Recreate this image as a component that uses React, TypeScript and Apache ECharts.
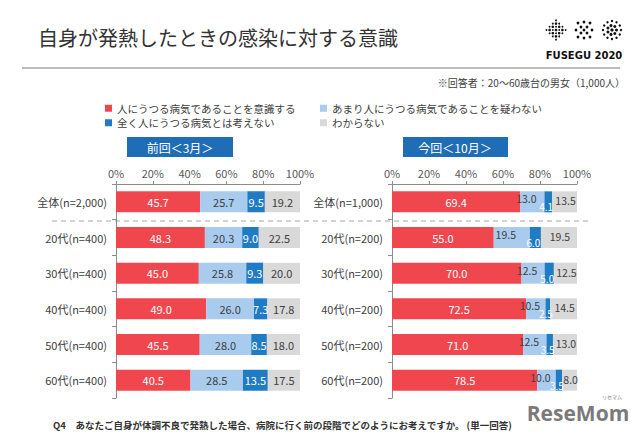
import React, { useEffect, useRef } from "react";
import * as echarts from "echarts";

const categoriesPrev = ["全体(n=2,000)", "20代(n=400)", "30代(n=400)", "40代(n=400)", "50代(n=400)", "60代(n=400)"];
const categoriesNow = ["全体(n=1,000)", "20代(n=200)", "30代(n=200)", "40代(n=200)", "50代(n=200)", "60代(n=200)"];

const seriesNames = [
  "人にうつる病気であることを意識する",
  "あまり人にうつる病気であることを疑わない",
  "全く人にうつる病気とは考えない",
  "わからない",
];
const seriesColors = ["#f0474f", "#a9cbee", "#1f7bc4", "#d9d9d9"];
const labelColors = ["#ffffff", "#404040", "#ffffff", "#404040"];

const prevAware = [45.7, 48.3, 45.0, 49.0, 45.5, 40.5];
const prevNotDoubt = [25.7, 20.3, 25.8, 26.0, 28.0, 28.5];
const prevNever = [9.5, 9.0, 9.3, 7.3, 8.5, 13.5];
const prevUnknown = [19.2, 22.5, 20.0, 17.8, 18.0, 17.5];

const nowAware = [69.4, 55.0, 70.0, 72.5, 71.0, 78.5];
const nowNotDoubt = [13.0, 19.5, 12.5, 10.5, 12.5, 10.0];
const nowNever = [4.1, 6.0, 5.0, 2.5, 3.5, 3.5];
const nowUnknown = [13.5, 19.5, 12.5, 14.5, 13.0, 8.0];

const xTicks = { min: 0, max: 100, interval: 20 };

const FONT = "'Noto Sans CJK JP', 'Noto Sans', sans-serif";

function logoDots(cx: number, cy: number, kind: number) {
  const out: any[] = [];
  const dot = (x: number, y: number, r: number) =>
    out.push({ type: "circle", shape: { cx: x, cy: y, r }, style: { fill: "#111" }, silent: true });
  if (kind === 0) {
    for (let i = -3; i <= 3; i++) {
      for (let j = -3; j <= 3; j++) {
        if (Math.abs(i) + Math.abs(j) <= 3 && (i + j) % 2 === 0) dot(cx + i * 3.2, cy + j * 3.2, 1.3);
        else if (Math.abs(i) + Math.abs(j) <= 3) dot(cx + i * 3.2, cy + j * 3.2, 0.9);
      }
    }
  } else if (kind === 1) {
    const pts = [[-6, -7], [0, -8], [6, -7], [-8, 0], [8, 0], [-6, 7], [0, 8], [6, 7], [-3, -3], [3, -3], [-3, 3], [3, 3], [0, 0]];
    pts.forEach((p) => dot(cx + p[0], cy + p[1], 1.4));
  } else {
    for (let k = 0; k < 12; k++) {
      const a = (k / 12) * Math.PI * 2;
      dot(cx + Math.cos(a) * 9, cy + Math.sin(a) * 9, 1.2);
    }
    for (let k = 0; k < 7; k++) {
      const a = (k / 7) * Math.PI * 2;
      dot(cx + Math.cos(a) * 4.5, cy + Math.sin(a) * 4.5, 1.5);
    }
    dot(cx, cy, 1.6);
  }
  return out;
}

function buildSeries(values: number[][], gridIdx: number, offsets: number[][], sizes: number[]) {
  return values.map((vals, i) => ({
    name: seriesNames[i],
    type: "bar",
    stack: "s" + gridIdx,
    xAxisIndex: gridIdx,
    yAxisIndex: gridIdx,
    barWidth: 21,
    itemStyle: { color: seriesColors[i] },
    label: {
      show: true,
      position: "inside",
      offset: offsets[i],
      color: labelColors[i],
      fontSize: sizes[i],
      fontFamily: FONT,
      formatter: (p: any) => Number(p.value).toFixed(1),
    },
    data: vals,
  }));
}

export default function App() {
  const ref = useRef<HTMLDivElement>(null);
  useEffect(() => {
    if (!ref.current) return;
    const chart = echarts.init(ref.current, null, { renderer: "svg" });
    const xAxisBase = {
      type: "value",
      position: "top",
      ...xTicks,
      axisLine: { show: true, lineStyle: { color: "#8c8c8c" } },
      axisTick: { show: true, length: 3, lineStyle: { color: "#8c8c8c" } },
      splitLine: { show: false },
      axisLabel: { formatter: "{value}%", color: "#595959", fontSize: 11, fontFamily: FONT, margin: 6 },
    };
    const yAxisBase = {
      type: "category",
      inverse: true,
      axisLine: { show: true, lineStyle: { color: "#8c8c8c" } },
      axisTick: { show: true, length: 4, lineStyle: { color: "#8c8c8c" } },
      axisLabel: { color: "#404040", fontSize: 11, fontFamily: FONT, margin: 9 },
    };
    const legendBase = {
      orient: "vertical",
      top: 98,
      itemWidth: 7,
      itemHeight: 7,
      itemGap: 4,
      icon: "rect",
      textStyle: { color: "#404040", fontSize: 10.5, fontFamily: FONT },
      selectedMode: false,
    };
    const option: any = {
      animation: false,
      backgroundColor: "#ffffff",
      grid: [
        { left: 116, top: 184, width: 184, height: 214 },
        { left: 392, top: 184, width: 185, height: 214 },
      ],
      xAxis: [
        { ...xAxisBase, gridIndex: 0 },
        { ...xAxisBase, gridIndex: 1 },
      ],
      yAxis: [
        { ...yAxisBase, gridIndex: 0, data: categoriesPrev },
        { ...yAxisBase, gridIndex: 1, data: categoriesNow },
      ],
      legend: [
        { ...legendBase, data: [seriesNames[0], seriesNames[2]], left: 100 },
        { ...legendBase, data: [seriesNames[1], seriesNames[3]], left: 315 },
      ],
      series: [
        ...buildSeries([prevAware, prevNotDoubt, prevNever, prevUnknown], 0, [[0, 0], [0, 0], [0, 0], [0, 0]], [11, 11, 11, 11]),
        ...buildSeries([nowAware, nowNotDoubt, nowNever, nowUnknown], 1, [[0, 0], [-6, -3], [-2, 5], [1, -1]], [11, 10.5, 10, 10.5]),
      ],
      graphic: [
        {
          type: "text",
          left: 38,
          top: 27,
          style: { text: "自身が発熱したときの感染に対する意識", fontSize: 20, fill: "#333333", fontFamily: FONT },
        },
        {
          type: "line",
          shape: { x1: 22, y1: 68, x2: 620, y2: 68 },
          style: { stroke: "#a6a6a6", lineWidth: 1.5 },
        },
        ...logoDots(556, 30, 0),
        ...logoDots(584, 30, 1),
        ...logoDots(612, 30, 2),
        {
          type: "text",
          x: 584,
          y: 55,
          style: {
            text: "FUSEGU 2020",
            fontSize: 10,
            fontWeight: "bold",
            fill: "#111",
            fontFamily: "'DejaVu Sans', sans-serif",
            align: "center",
            verticalAlign: "middle",
          },
        },
        {
          type: "text",
          x: 625,
          y: 82,
          style: {
            text: "※回答者：20〜60歳台の男女（1,000人）",
            fontSize: 10,
            fill: "#404040",
            fontFamily: FONT,
            align: "right",
            verticalAlign: "middle",
          },
        },
        {
          type: "rect",
          shape: { x: 127, y: 137, width: 106, height: 20 },
          style: { fill: "#1f6db6" },
        },
        {
          type: "text",
          x: 180,
          y: 147,
          style: { text: "前回＜3月＞", fontSize: 12, fill: "#ffffff", fontFamily: FONT, align: "center", verticalAlign: "middle" },
        },
        {
          type: "rect",
          shape: { x: 403, y: 137, width: 105, height: 20 },
          style: { fill: "#1f6db6" },
        },
        {
          type: "text",
          x: 455,
          y: 147,
          style: { text: "今回＜10月＞", fontSize: 12, fill: "#ffffff", fontFamily: FONT, align: "center", verticalAlign: "middle" },
        },
        {
          type: "line",
          shape: { x1: 52, y1: 221, x2: 590, y2: 221 },
          style: { stroke: "#a6a6a6", lineWidth: 1, lineDash: [5, 4] },
        },
        {
          type: "text",
          x: 53,
          y: 425,
          style: {
            text: "Q4　あなたご自身が体調不良で発熱した場合、病院に行く前の段階でどのようにお考えですか。 (単一回答)",
            fontSize: 9.5,
            fontWeight: "bold",
            fill: "#333333",
            fontFamily: FONT,
            verticalAlign: "middle",
          },
        },
        {
          type: "text",
          x: 578,
          y: 413,
          style: {
            text: "ReseMom",
            fontSize: 21,
            fontWeight: "bold",
            fill: "#7a7a7a",
            fontFamily: "'Open Sans', sans-serif",
            align: "center",
            verticalAlign: "middle",
          },
        },
        {
          type: "text",
          x: 612,
          y: 396,
          style: { text: "リセマム", fontSize: 5, fill: "#7a7a7a", fontFamily: FONT, align: "center", verticalAlign: "middle" },
        },
      ],
    };
    chart.setOption(option);
    return () => chart.dispose();
  }, []);
  return <div ref={ref} style={{ width: 640, height: 439, position: "absolute", left: 0, top: 0 }} />;
}
